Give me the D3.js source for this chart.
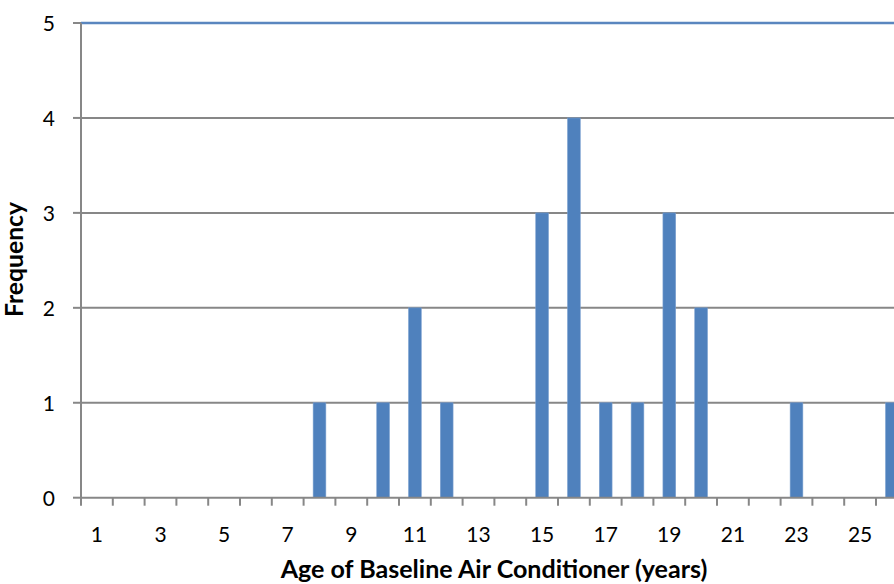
<!DOCTYPE html>
<html>
<head>
<meta charset="utf-8">
<script src="https://cdn.jsdelivr.net/npm/d3@7"></script>
<style>
  html, body { margin: 0; padding: 0; background: #fff; }
  svg { display: block; }
  text { font-family: Lato, "Open Sans", sans-serif; fill: #000; }
</style>
</head>
<body>
<svg id="chart" width="894" height="584"></svg>
<script>
// Age of the baseline air conditioner (years) and how many units had that age
const ages = d3.range(1, 27);
const frequency = [0, 0, 0, 0, 0, 0, 0, 1, 0, 1, 2, 1, 0, 0, 3, 4, 1, 1, 3, 2, 0, 0, 1, 0, 0, 1];
const yTicks = [0, 1, 2, 3, 4, 5];
const xTickLabels = ages.filter(a => a % 2 === 1);
const xTitle = "Age of Baseline Air Conditioner (years)";
const yTitle = "Frequency";

const svg = d3.select("#chart");
const plotLeft = 81, plotTop = 23, plotBottom = 497.7, step = 31.8;
const plotRight = plotLeft + step * ages.length;

const x = d3.scaleBand().domain(ages).range([plotLeft, plotRight]).paddingInner(0.6).paddingOuter(0.3);
const y = d3.scaleLinear().domain([0, 5]).range([plotBottom, plotTop]);

const gridColor = "#878787";
const barColor = "#4F81BD";

// horizontal gridlines (top one in blue)
svg.append("g").selectAll("line").data(yTicks.filter(v => v > 0)).join("line")
  .attr("x1", plotLeft).attr("x2", plotRight)
  .attr("y1", d => y(d)).attr("y2", d => y(d))
  .attr("stroke", d => d === 5 ? "#5A86BF" : gridColor)
  .attr("stroke-width", d => d === 5 ? 2.6 : 2);

// y axis line and ticks
svg.append("line").attr("x1", plotLeft).attr("x2", plotLeft).attr("y1", y(5)).attr("y2", y(0))
  .attr("stroke", gridColor).attr("stroke-width", 2);
svg.append("g").selectAll("line").data(yTicks).join("line")
  .attr("x1", plotLeft - 8).attr("x2", plotLeft)
  .attr("y1", d => y(d)).attr("y2", d => y(d))
  .attr("stroke", gridColor).attr("stroke-width", 2);
svg.append("g").selectAll("text").data(yTicks).join("text")
  .attr("x", 55).attr("y", d => y(d) + 8.3)
  .attr("text-anchor", "end").attr("font-size", 21)
  .text(d => d);

// bars
svg.append("g").selectAll("rect").data(ages.map((a, i) => ({ age: a, n: frequency[i] })).filter(d => d.n > 0))
  .join("rect")
  .attr("x", d => x(d.age)).attr("width", x.bandwidth())
  .attr("y", d => y(d.n)).attr("height", d => y(0) - y(d.n))
  .attr("fill", barColor)
  .attr("stroke", "#7A9FCF").attr("stroke-width", 0.6);

// x axis line and category boundary ticks
svg.append("line").attr("x1", plotLeft).attr("x2", plotRight).attr("y1", y(0)).attr("y2", y(0))
  .attr("stroke", gridColor).attr("stroke-width", 2);
svg.append("g").selectAll("line").data(d3.range(0, ages.length + 1)).join("line")
  .attr("x1", k => plotLeft + k * x.step()).attr("x2", k => plotLeft + k * x.step())
  .attr("y1", y(0)).attr("y2", y(0) + 8)
  .attr("stroke", gridColor).attr("stroke-width", 2);
svg.append("g").selectAll("text").data(xTickLabels).join("text")
  .attr("x", d => x(d) + x.bandwidth() / 2).attr("y", 542)
  .attr("text-anchor", "middle").attr("font-size", 21)
  .text(d => d);

// axis titles, sized to their set widths
function fitText(sel, width) {
  const w = sel.node().getComputedTextLength();
  const fs = parseFloat(sel.attr("font-size"));
  sel.attr("font-size", fs * width / w);
}
const xt = svg.append("text").attr("x", 494).attr("y", 578)
  .attr("text-anchor", "middle").attr("font-weight", "bold").attr("font-size", 21)
  .text(xTitle);
fitText(xt, 427);
const yt = svg.append("text").attr("transform", "translate(23,259.5) rotate(-90)")
  .attr("text-anchor", "middle").attr("font-weight", "bold").attr("font-size", 19)
  .text(yTitle);
fitText(yt, 115);
</script>
</body>
</html>
